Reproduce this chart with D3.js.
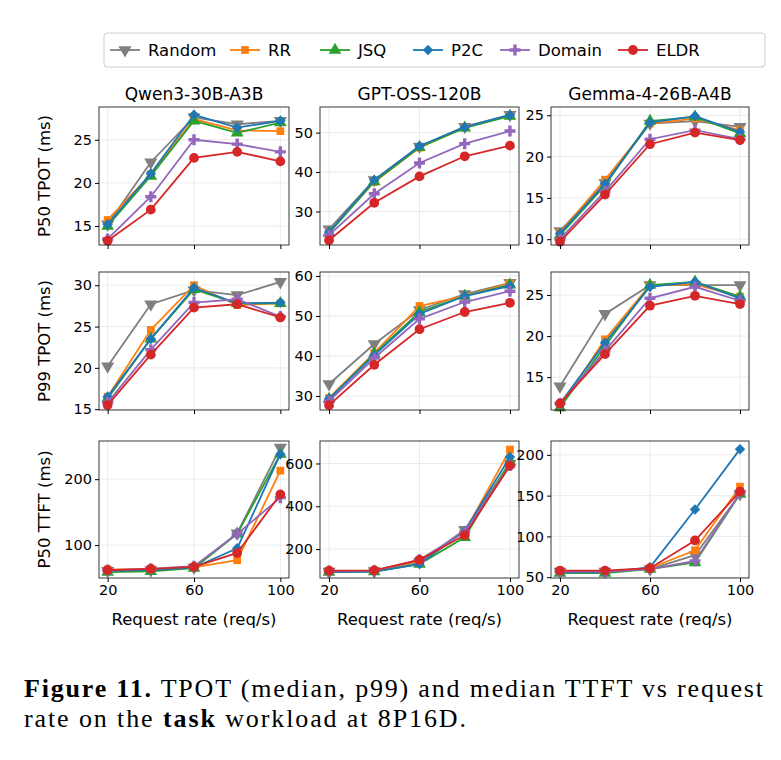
<!DOCTYPE html>
<html><head><meta charset="utf-8">
<script src="https://cdn.jsdelivr.net/npm/d3@7"></script>
<style>body{margin:0;background:#fff}svg text{font-family:"DejaVu Sans",sans-serif}</style>
</head><body>
<svg id="fig" width="781" height="760"></svg>
<script>
var rates = [20, 40, 60, 80, 100]
var methods = ["Random", "RR", "JSQ", "P2C", "Domain", "ELDR"]
var colors = ["#7f7f7f", "#ff7f0e", "#2ca02c", "#1f77b4", "#9467bd", "#d62728"]
var models = ["Qwen3-30B-A3B", "GPT-OSS-120B", "Gemma-4-26B-A4B"]
var metrics = ["P50 TPOT (ms)", "P99 TPOT (ms)", "P50 TTFT (ms)"]

// [model][method] -> values at rates
var p50tpot = [
  [[15.2,22.4,27.6,26.8,27.2],[15.7,21.0,27.4,26.1,26.0],[15.0,20.8,27.2,25.8,27.0],[15.2,21.1,27.9,26.4,27.2],[13.5,18.4,25.0,24.5,23.6],[13.3,16.9,22.9,23.6,22.5]],
  [[25.5,38,46.5,51.5,54.5],[24.8,37.5,46.2,51.3,54.3],[24.5,37.6,46.3,51.2,54.2],[24.8,38,46.6,51.4,54.5],[24,34.5,42.3,47.2,50.4],[22.7,32.2,38.9,44,46.7]],
  [[11,16.8,24,24.3,23.6],[10.8,17.2,24,24.6,23.2],[10.5,16.5,24.3,24.8,22.8],[10.7,16.7,24.1,24.9,23],[10,15.8,22.1,23.2,22.1],[9.7,15.4,21.5,22.9,22]]
]
var p99tpot = [
  [[20.2,27.7,29.4,28.8,30.4],[16.5,24.6,30,27.6,27.8],[16.3,23.5,29.5,27.8,27.8],[16.5,23.5,29.7,27.8,27.9],[15.8,22.2,27.9,28.3,26.2],[15.5,21.6,27.3,27.7,26.1]],
  [[33,43,51.5,55.5,58.3],[29.5,40.8,52.5,55,58.2],[29.2,40.5,51,55,57.8],[29.3,40.2,50.5,55,57.5],[28.7,39.5,49.3,53.5,56.2],[27.7,37.8,46.7,51,53.3]],
  [[13.9,22.7,26.2,26.2,26.2],[11.3,19.6,26.2,26.3,24.8],[11.3,18.8,26.2,26.6,24.8],[11.8,19.2,26,26.6,24.6],[11.8,18.2,24.6,26,24.3],[11.8,17.8,23.7,24.9,23.9]]
]
var p50ttft = [
  [[61,62,66,118,248],[63,63,66,77,213],[59,60,65,117,238],[61,62,66,95,238],[62,64,68,117,172],[62,64,67,88,177]],
  [[95,97,140,290,600],[97,98,145,280,665],[93,95,130,255,610],[93,95,130,285,630],[97,99,150,280,590],[99,101,150,265,590]],
  [[57,57,60,77,152],[57,57,61,83,161],[55,55,60,68,152],[56,56,62,133,207],[57,57,60,70,153],[58,58,61,95,155]]
]
var allData = [p50tpot, p99tpot, p50ttft]
var yDomains = [
  [[12.8,28.8],[21.5,56.5],[9.3,26]],
  [[14.9,31.6],[26.5,61],[11,27.8]],
  [[50,258],[65,705],[49,217]]
]
var yTicks = [
  [[15,20,25],[30,40,50],[10,15,20,25]],
  [[15,20,25,30],[30,40,50,60],[15,20,25]],
  [[100,200],[200,400,600],[50,100,150,200]]
]

var svg = d3.select("#fig")
var colX = [[99,289],[320,519],[551,749]]
var rowY = [[107,245],[272,410],[441,578]]

var symTypes = [d3.symbolTriangle, d3.symbolSquare, d3.symbolTriangle, d3.symbolSquare, null, d3.symbolCircle]
var symSizes = [75, 60, 70, 55, 0, 75]
function marker(g, i, x, y) {
  if (i == 4) {
    g.append("path").attr("d", "M-5.5,0H5.5M0,-5.5V5.5").attr("transform", `translate(${x},${y})`)
      .attr("stroke", colors[i]).attr("stroke-width", 3.4)
    return
  }
  var rot = i == 0 ? " rotate(180)" : i == 3 ? " rotate(45)" : ""
  g.append("path").attr("d", d3.symbol().type(symTypes[i]).size(symSizes[i])())
    .attr("transform", `translate(${x},${y})${rot}`).attr("fill", colors[i])
}

for (var r = 0; r < 3; r++) {
  for (var c = 0; c < 3; c++) {
    var x = d3.scaleLinear().domain([16, 104]).range(colX[c])
    var y = d3.scaleLinear().domain(yDomains[r][c]).range([rowY[r][1], rowY[r][0]])
    var g = svg.append("g")
    g.selectAll(null).data([20,60,100]).enter().append("line")
      .attr("x1", d => x(d)).attr("x2", d => x(d)).attr("y1", rowY[r][0]).attr("y2", rowY[r][1])
      .attr("stroke", "#e6e6e6").attr("stroke-width", 0.8)
    g.selectAll(null).data(yTicks[r][c]).enter().append("line")
      .attr("x1", colX[c][0]).attr("x2", colX[c][1]).attr("y1", d => y(d)).attr("y2", d => y(d))
      .attr("stroke", "#e6e6e6").attr("stroke-width", 0.8)
    var line = d3.line().x((d, k) => x(rates[k])).y(d => y(d))
    allData[r][c].forEach(function(vals, i) {
      g.append("path").attr("d", line(vals)).attr("fill", "none").attr("stroke", colors[i]).attr("stroke-width", 1.8)
      vals.forEach(function(v, k) { marker(g, i, x(rates[k]), y(v)) })
    })
    g.append("rect").attr("x", colX[c][0]).attr("y", rowY[r][0])
      .attr("width", colX[c][1]-colX[c][0]).attr("height", rowY[r][1]-rowY[r][0])
      .attr("fill", "none").attr("stroke", "#222").attr("stroke-width", 0.9)
    var ya = g.append("g").attr("transform", `translate(${colX[c][0]},0)`)
      .call(d3.axisLeft(y).tickValues(yTicks[r][c]).tickSize(4).tickPadding(3))
    ya.select(".domain").remove()
    ya.selectAll("text").style("font-size", "14.5px").attr("fill", "#000")
    var xa = g.append("g").attr("transform", `translate(0,${rowY[r][1]})`)
      .call(d3.axisBottom(x).tickValues([20,60,100]).tickSize(4).tickPadding(3).tickFormat(r == 2 ? d3.format("d") : ""))
    xa.select(".domain").remove()
    xa.selectAll("text").style("font-size", "14.5px").attr("fill", "#000")
    if (r == 2) {
      g.append("text").attr("x", (colX[c][0]+colX[c][1])/2).attr("y", 625).attr("text-anchor", "middle")
        .style("font-size", "16.5px").text("Request rate (req/s)")
    }
    if (r == 0) {
      g.append("text").attr("x", (colX[c][0]+colX[c][1])/2).attr("y", 100).attr("text-anchor", "middle")
        .style("font-size", "17px").text(models[c])
    }
    if (c == 0) {
      g.append("text").attr("transform", `translate(50,${(rowY[r][0]+rowY[r][1])/2}) rotate(-90)`)
        .attr("text-anchor", "middle").style("font-size", "16.5px").text(metrics[r])
    }
  }
}

// legend
var lg = svg.append("g")
lg.append("rect").attr("x", 104).attr("y", 33).attr("width", 661).attr("height", 34).attr("rx", 3)
  .attr("fill", "#fff").attr("stroke", "#ccc")
var lx = [110, 230, 320, 413, 500, 618]
methods.forEach(function(m, i) {
  lg.append("line").attr("x1", lx[i]).attr("x2", lx[i]+30).attr("y1", 50).attr("y2", 50)
    .attr("stroke", colors[i]).attr("stroke-width", 1.8)
  marker(lg, i, lx[i]+15, 50)
  lg.append("text").attr("x", lx[i]+38).attr("y", 56).style("font-size", "16.5px").text(m)
})

// caption
var serif = "'Liberation Serif', serif"
var t1 = svg.append("text").attr("x", 24).attr("y", 697).style("font-family", serif).style("font-size", "26px")
  .attr("textLength", 739).attr("lengthAdjust", "spacing")
t1.append("tspan").style("font-family", serif).style("font-weight", "bold").text("Figure 11.")
t1.append("tspan").style("font-family", serif).text(" TPOT (median, p99) and median TTFT vs request")
var t2 = svg.append("text").attr("x", 24).attr("y", 727).style("font-family", serif).style("font-size", "26px")
  .attr("textLength", 442).attr("lengthAdjust", "spacing")
t2.append("tspan").style("font-family", serif).text("rate on the ")
t2.append("tspan").style("font-family", serif).style("font-weight", "bold").text("task")
t2.append("tspan").style("font-family", serif).text(" workload at 8P16D.")
</script>
</body></html>
